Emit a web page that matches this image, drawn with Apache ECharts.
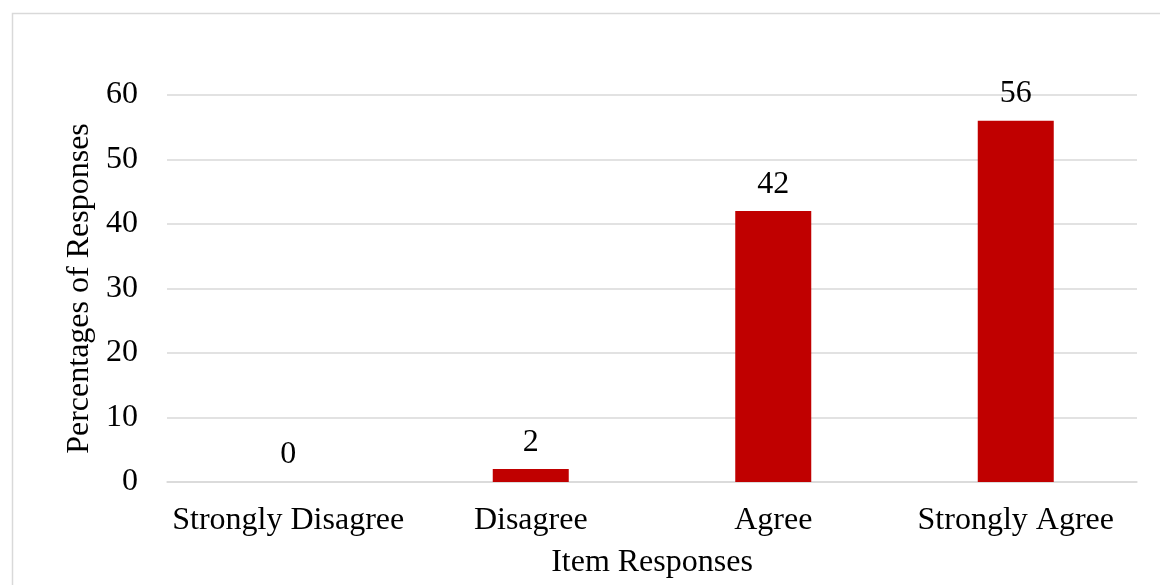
<!DOCTYPE html>
<html>
<head>
<meta charset="utf-8">
<script src="https://cdn.jsdelivr.net/npm/echarts@6/dist/echarts.min.js"></script>
<style>
html,body{margin:0;padding:0;background:#fff;}
#chart{width:1160px;height:585px;}
</style>
</head>
<body>
<div id="chart"></div>
<script>
const categories = ['Strongly Disagree', 'Disagree', 'Agree', 'Strongly Agree'];
const values = [0, 2, 42, 56];
const yTicks = { min: 0, max: 60, interval: 10 };
const xAxisTitle = 'Item Responses';
const yAxisTitle = 'Percentages of Responses';

const FONT = '"Liberation Serif", "Times New Roman", serif';
const FS = 32;
const chart = echarts.init(document.getElementById('chart'), null, { renderer: 'canvas' });
chart.setOption({
  animation: false,
  backgroundColor: '#fff',
  graphic: [{
    type: 'rect', left: 10, top: 11, silent: true,
    shape: { width: 1200, height: 620 },
    style: { fill: 'none', stroke: '#d9d9d9', lineWidth: 1.5 }
  }],
  grid: { left: 167, right: 23, top: 95, bottom: 103 },
  xAxis: {
    type: 'category',
    data: categories,
    name: xAxisTitle,
    nameLocation: 'middle',
    nameGap: 65,
    nameTextStyle: { fontFamily: FONT, fontSize: FS, color: '#000' },
    axisLine: { show: true, lineStyle: { color: '#d9d9d9', width: 1.5 } },
    axisTick: { show: false },
    axisLabel: { fontFamily: FONT, fontSize: FS, color: '#000', margin: 23, interval: 0 }
  },
  yAxis: {
    type: 'value',
    min: yTicks.min, max: yTicks.max, interval: yTicks.interval,
    name: yAxisTitle,
    nameLocation: 'middle',
    nameGap: 62,
    nameRotate: 90,
    nameTextStyle: { fontFamily: FONT, fontSize: FS, color: '#000' },
    axisLine: { show: false },
    axisTick: { show: false },
    splitLine: { lineStyle: { color: '#d9d9d9', width: 1.5 } },
    axisLabel: { fontFamily: FONT, fontSize: FS, color: '#000', margin: 29 }
  },
  series: [{
    type: 'bar',
    data: values,
    barWidth: 76,
    itemStyle: { color: '#c00000' },
    label: {
      show: true, position: 'top', distance: 11,
      fontFamily: FONT, fontSize: FS, color: '#000'
    }
  }]
});
</script>
</body>
</html>
